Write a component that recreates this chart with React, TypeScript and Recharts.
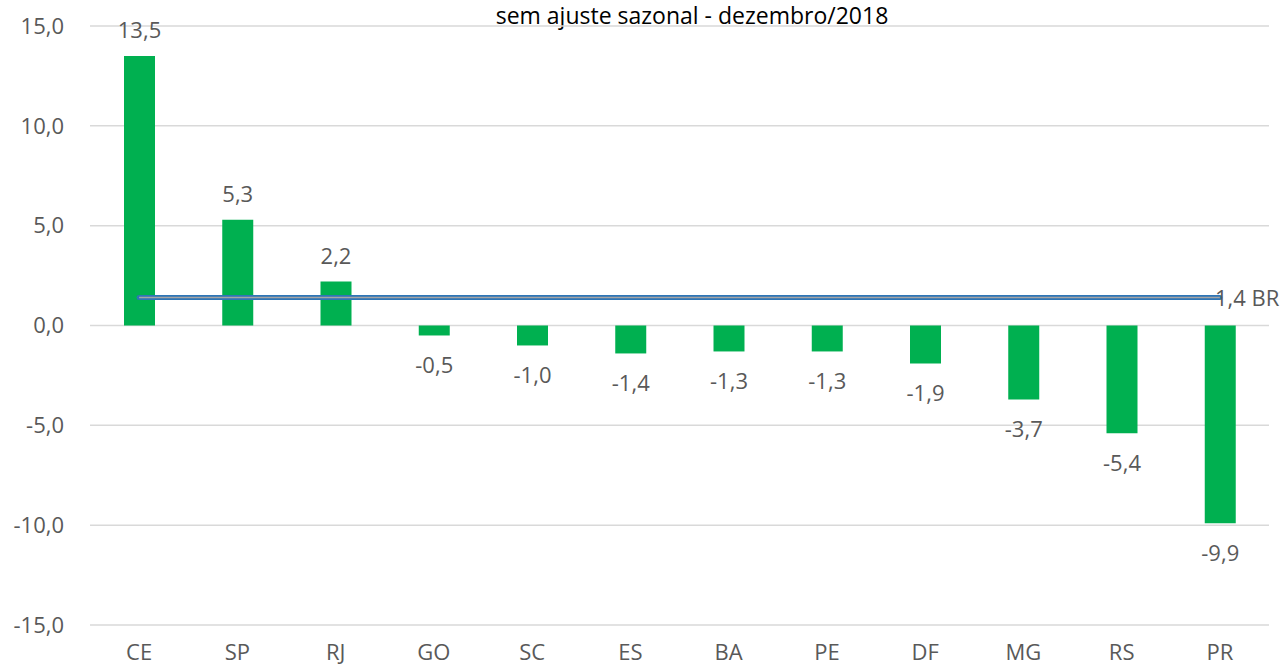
import React from 'react'
import {
  ComposedChart,
  Bar,
  Line,
  XAxis,
  YAxis,
  CartesianGrid,
  LabelList
} from 'recharts'

const estados = ['CE', 'SP', 'RJ', 'GO', 'SC', 'ES', 'BA', 'PE', 'DF', 'MG', 'RS', 'PR']
const variacao = [13.5, 5.3, 2.2, -0.5, -1.0, -1.4, -1.3, -1.3, -1.9, -3.7, -5.4, -9.9]
const mediaBR = 1.4
const yTicks = [-15, -10, -5, 0, 5, 10, 15]

const data = estados.map((uf, i) => ({ uf, valor: variacao[i], br: mediaBR }))

const fmt = (v: number) => v.toFixed(1).replace('.', ',')

const FONT = '"Open Sans", sans-serif'
const TEXT = '#595959'
const FS = 22

const BarLabel = (props: any) => {
  const { x, y, width, height, value } = props
  const top = Math.min(y, y + height)
  const bottom = Math.max(y, y + height)
  const cx = x + width / 2
  const ty = value >= 0 ? top - 18 : bottom + 38
  return (
    <text x={cx} y={ty} textAnchor="middle" fill={TEXT} fontSize={FS} fontFamily={FONT}>
      {fmt(value)}
    </text>
  )
}

const BrLabel = (props: any) => {
  const { x, y, index, value } = props
  if (index !== estados.length - 1) return null
  return (
    <text x={x - 5} y={y + 8} textAnchor="start" fill={TEXT} fontSize={FS} fontFamily={FONT}>
      {`${fmt(value)} BR`}
    </text>
  )
}

export default function App() {
  return (
    <div style={{ position: 'absolute', left: 0, top: 0, width: 1284, height: 668, background: '#fff', fontFamily: FONT }}>
      <svg width={1284} height={32} style={{ position: 'absolute', left: 0, top: 0 }}>
        <text x={692} y={24} textAnchor="middle" fontSize={23} fill="#000" fontFamily={FONT}>
          sem ajuste sazonal - dezembro/2018
        </text>
      </svg>
      <ComposedChart
        width={1284}
        height={668}
        data={data}
        margin={{ top: 26, right: 15, bottom: 0, left: 0 }}
      >
        <CartesianGrid vertical={false} stroke="#D9D9D9" strokeWidth={1.5} />
        <XAxis
          dataKey="uf"
          axisLine={false}
          tickLine={false}
          tickSize={0}
          tickMargin={19}
          height={43}
          interval={0}
          tick={{ fill: TEXT, fontSize: FS, fontFamily: FONT }}
        />
        <YAxis
          domain={[-15, 15]}
          ticks={yTicks}
          axisLine={false}
          tickLine={false}
          tickSize={0}
          tickMargin={26}
          width={90}
          tickFormatter={fmt}
          tick={{ fill: TEXT, fontSize: FS, fontFamily: FONT }}
        />
        <Bar dataKey="valor" fill="#00B050" barSize={31} isAnimationActive={false}>
          <LabelList dataKey="valor" content={<BarLabel />} />
        </Bar>
        <Line
          dataKey="br"
          stroke="#2E75B6"
          strokeWidth={5}
          strokeLinecap="round"
          dot={false}
          activeDot={false}
          isAnimationActive={false}
        />
        <Line
          dataKey="br"
          stroke="#A5A5A5"
          strokeWidth={1.5}
          dot={false}
          activeDot={false}
          isAnimationActive={false}
        >
          <LabelList dataKey="br" content={<BrLabel />} />
        </Line>
      </ComposedChart>
    </div>
  )
}
